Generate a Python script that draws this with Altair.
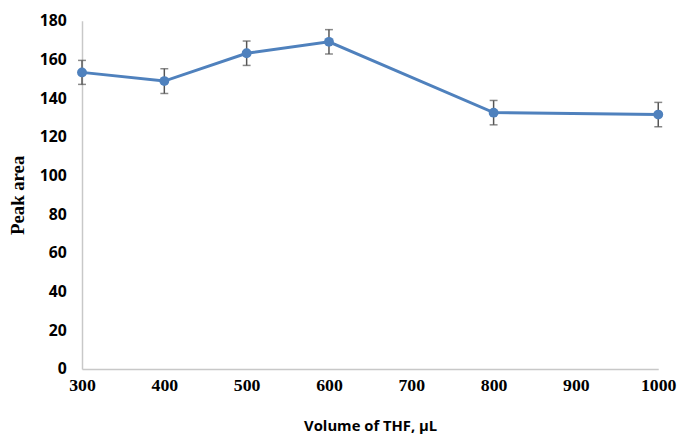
import altair as alt
import pandas as pd

volumes = [300, 400, 500, 600, 800, 1000]
peak_area = [153.3, 148.8, 163.2, 169.1, 132.5, 131.5]
errors = [6.2, 6.4, 6.3, 6.3, 6.3, 6.3]

df = pd.DataFrame({"vol": volumes, "area": peak_area, "err": errors})
df["lo"] = df["area"] - df["err"]
df["hi"] = df["area"] + df["err"]

x_axis = alt.Axis(values=[300, 400, 500, 600, 700, 800, 900, 1000], format="d",
                  labelFlush=False, labelOverlap=False, title="Volume of THF, µL")
y_axis = alt.Axis(values=list(range(0, 181, 20)), title="Peak area", format="d",
                  labelFlush=False, labelOverlap=False)
x_scale = alt.Scale(domain=[300, 1000], nice=False)
y_scale = alt.Scale(domain=[0, 180], nice=False)

x = alt.X("vol:Q", scale=x_scale, axis=x_axis)
y = alt.Y("area:Q", scale=y_scale, axis=y_axis)

err = alt.Chart(df).mark_errorbar(ticks=alt.MarkConfig(size=8, color="#555555", strokeWidth=1.5),
                                  color="#555555", thickness=1.5).encode(
    x=x, y=alt.Y("lo:Q", scale=y_scale, axis=y_axis), y2="hi:Q")
line = alt.Chart(df).mark_line(color="#4F81BD", strokeWidth=3).encode(x=x, y=y)
pts = alt.Chart(df).mark_circle(color="#4F81BD", size=100, opacity=1).encode(x=x, y=y)

chart = alt.layer(err, line, pts).properties(
    width=584, height=353,
    background="white",
    autosize=alt.AutoSizeParams(type="none"),
    padding={"left": 75, "top": 10, "right": 19, "bottom": 67},
).configure_view(stroke=None).configure_axis(
    grid=False, ticks=False, domainColor="#c8c8c8", domainWidth=1.5,
    labelColor="#000", titleColor="#000", titleFontWeight="bold", labelFontWeight="bold",
    labelOverlap=False,
).configure_axisX(
    labelFont="Liberation Serif", labelFontSize=18, labelPadding=8,
    titleFont="Open Sans", titleFontSize=15, titlePadding=24,
).configure_axisY(
    labelFont="Open Sans", labelFontSize=16, labelPadding=16,
    titleFont="Liberation Serif", titleFontSize=19, titlePadding=12,
)

chart.save("out.html", embed_options={"renderer": "svg", "actions": False})
